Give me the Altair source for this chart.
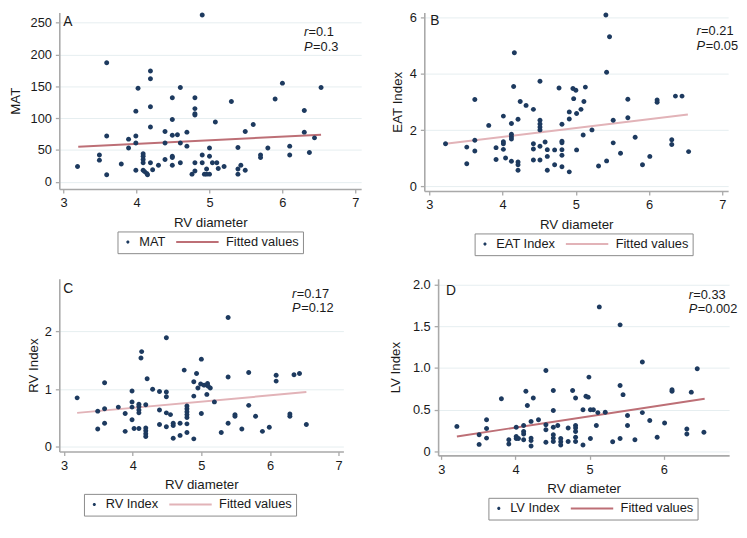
import altair as alt
import pandas as pd

# ---------------- data ----------------
# Panel A: MAT vs RV diameter
a_x = [3.19, 3.49, 3.49, 3.59, 3.59, 3.59, 3.79, 3.89, 3.89, 3.99, 3.99, 3.99, 3.99, 4.02,
       4.09, 4.09, 4.09, 4.09, 4.09, 4.11, 4.14, 4.15, 4.19, 4.19, 4.19, 4.19, 4.19, 4.22,
       4.30, 4.39, 4.39, 4.39, 4.49, 4.49, 4.49, 4.49, 4.49, 4.49, 4.56, 4.60, 4.60, 4.60,
       4.69, 4.69, 4.76, 4.80, 4.80, 4.80, 4.80, 4.80, 4.80, 4.90, 4.90, 4.90, 4.93, 4.96,
       4.96, 5.00, 5.00, 5.00, 5.04, 5.08, 5.10, 5.12, 5.20, 5.30, 5.39, 5.39, 5.39, 5.43,
       5.49, 5.49, 5.60, 5.70, 5.70, 5.80, 5.90, 6.00, 6.10, 6.10, 6.30, 6.30, 6.37, 6.44,
       6.53]
a_y = [24, 42, 34, 187, 72, 11, 28, 67, 53, 111, 72, 61, 18, 147,
       44, 40, 35, 30, 18, 16, 13, 11, 174, 162, 118, 86, 30, 19,
       26, 79, 61, 35, 132, 98, 73, 40, 38, 26, 74, 148, 61, 30,
       78, 56, 12, 17, 132, 115, 107, 105, 30, 262, 42, 30, 12, 12,
       20, 12, 53, 40, 30, 94, 30, 21, 24, 126, 54, 20, 12, 26,
       79, 18, 90, 42, 38, 53, 130, 155, 56, 42, 112, 78, 46, 69,
       148]
a_fit_x = [3.2, 6.53]
a_fit_y = [55, 74]

# Panel B: EAT Index vs RV diameter
b_x = [3.22, 3.51, 3.51, 3.62, 3.62, 3.62, 3.81, 3.91, 3.91, 4.01, 4.01, 4.01, 4.01, 4.04,
       4.12, 4.12, 4.12, 4.12, 4.12, 4.15, 4.16, 4.21, 4.21, 4.21, 4.21, 4.24, 4.32, 4.42,
       4.42, 4.42, 4.42, 4.51, 4.51, 4.51, 4.51, 4.51, 4.51, 4.51, 4.58, 4.61, 4.61, 4.61,
       4.71, 4.71, 4.77, 4.81, 4.81, 4.81, 4.81, 4.81, 4.81, 4.91, 4.91, 4.91, 4.96, 4.97,
       5.00, 5.01, 5.01, 5.07, 5.10, 5.11, 5.13, 5.22, 5.31, 5.41, 5.42, 5.42, 5.46, 5.51,
       5.51, 5.61, 5.71, 5.71, 5.81, 5.91, 6.01, 6.11, 6.11, 6.31, 6.31, 6.36, 6.45, 6.54]
b_y = [1.52, 1.40, 0.81, 3.09, 1.64, 1.26, 2.17, 1.38, 0.96, 2.50, 1.59, 1.52, 1.32, 1.01,
       2.24, 1.86, 1.77, 1.69, 0.90, 3.55, 4.75, 2.39, 0.87, 0.77, 0.58, 3.02, 2.88, 2.74,
       1.52, 1.33, 0.94, 3.74, 2.35, 2.22, 2.11, 2.01, 1.43, 0.94, 1.58, 1.31, 1.07, 0.58,
       1.30, 0.77, 3.50, 2.21, 1.61, 1.55, 1.31, 1.11, 0.70, 2.65, 2.40, 0.52, 3.48, 3.12,
       3.42, 2.59, 1.30, 2.74, 1.83, 3.02, 3.53, 2.01, 0.73, 6.09, 4.06, 0.91, 5.32, 2.35,
       1.55, 1.18, 3.10, 2.44, 1.75, 0.77, 1.07, 3.07, 2.99, 1.66, 1.49, 3.21, 3.21, 1.24]
b_fit_x = [3.22, 6.53]
b_fit_y = [1.52, 2.56]

# Panel C: RV Index vs RV diameter
c_x = [3.19, 3.49, 3.49, 3.59, 3.59, 3.59, 3.79, 3.89, 3.89, 3.99, 3.99, 3.99, 3.99, 4.02,
       4.09, 4.09, 4.09, 4.09, 4.09, 4.12, 4.13, 4.19, 4.19, 4.19, 4.19, 4.19, 4.21, 4.29,
       4.39, 4.39, 4.39, 4.49, 4.49, 4.49, 4.49, 4.49, 4.55, 4.59, 4.59, 4.59, 4.69, 4.69,
       4.75, 4.79, 4.79, 4.79, 4.79, 4.79, 4.79, 4.79, 4.89, 4.89, 4.89, 4.93, 4.95, 4.99,
       5.00, 5.00, 5.04, 5.08, 5.09, 5.10, 5.13, 5.19, 5.29, 5.39, 5.39, 5.39, 5.49, 5.49,
       5.59, 5.69, 5.69, 5.79, 5.89, 5.99, 6.09, 6.09, 6.29, 6.29, 6.35, 6.43, 6.53]
c_y = [0.85, 0.62, 0.31, 1.11, 0.66, 0.41, 0.69, 0.58, 0.27, 0.97, 0.78, 0.69, 0.47, 0.32,
       0.74, 0.70, 0.64, 0.59, 0.32, 1.54, 1.65, 0.73, 0.33, 0.28, 0.23, 0.18, 1.18, 1.00,
       0.96, 0.64, 0.39, 1.89, 0.95, 0.87, 0.59, 0.35, 0.56, 0.41, 0.37, 0.15, 0.41, 0.20,
       1.33, 0.71, 0.66, 0.61, 0.56, 0.51, 0.40, 0.25, 0.14, 1.13, 0.88, 1.27, 1.02, 1.09,
       1.52, 0.58, 1.07, 0.91, 1.10, 1.05, 1.02, 0.78, 0.25, 2.24, 1.21, 0.41, 0.56, 0.53,
       0.31, 1.29, 0.72, 0.53, 0.27, 0.34, 1.24, 1.14, 0.57, 0.53, 1.25, 1.27, 0.39]
c_fit_x = [3.19, 6.53]
c_fit_y = [0.59, 0.95]

# Panel D: LV Index vs RV diameter
d_x = [3.21, 3.51, 3.51, 3.61, 3.61, 3.61, 3.81, 3.91, 3.91, 4.01, 4.01, 4.01, 4.04, 4.11,
       4.11, 4.11, 4.11, 4.14, 4.16, 4.21, 4.21, 4.21, 4.21, 4.24, 4.31, 4.41, 4.41, 4.41,
       4.41, 4.51, 4.51, 4.51, 4.51, 4.51, 4.51, 4.57, 4.61, 4.61, 4.61, 4.71, 4.71, 4.77,
       4.81, 4.81, 4.81, 4.81, 4.81, 4.81, 4.91, 4.91, 4.95, 4.98, 4.99, 5.01, 5.01, 5.05,
       5.09, 5.11, 5.13, 5.21, 5.31, 5.41, 5.41, 5.41, 5.45, 5.51, 5.51, 5.61, 5.71, 5.71,
       5.81, 5.91, 6.01, 6.11, 6.11, 6.31, 6.31, 6.37, 6.45, 6.54]
d_y = [0.30, 0.20, 0.085, 0.38, 0.275, 0.16, 0.63, 0.14, 0.09, 0.29, 0.18, 0.155, 0.155, 0.31,
       0.24, 0.21, 0.14, 0.72, 0.55, 0.36, 0.16, 0.13, 0.066, 0.64, 0.38, 0.97, 0.32, 0.26,
       0.11, 0.73, 0.49, 0.29, 0.20, 0.16, 0.12, 0.31, 0.155, 0.116, 0.078, 0.28, 0.12, 0.73,
       0.64, 0.31, 0.28, 0.24, 0.17, 0.12, 0.50, 0.078, 0.66, 0.65, 0.89, 0.50, 0.155, 0.50,
       0.31, 0.465, 1.73, 0.47, 0.116, 1.515, 0.79, 0.155, 0.68, 0.43, 0.31, 0.14, 1.07, 0.465,
       0.37, 0.17, 0.34, 0.74, 0.72, 0.27, 0.21, 0.71, 0.99, 0.23]
d_fit_x = [3.21, 6.55]
d_fit_y = [0.18, 0.63]

# ---------------- styling ----------------
FONT = "Liberation Sans"
NAVY = "#1d3a5f"
ROSE_DARK = "#bd6f76"
ROSE_LIGHT = "#e2b3b8"
AXIS_GRAY = "#a9a9a9"
GRID = "#e6eef0"
TXT = "#1a1a1a"

# legend / point symbols (custom paths so the legend looks like Stata's)
DOT = "M-0.4,0 A0.4,0.4 0 1,0 0.4,0 A0.4,0.4 0 1,0 -0.4,0 Z"
SEG = "M-9.75,-0.25 L1,-0.25 L1,0.25 L-9.75,0.25 Z"

IND = dict(color="independent", shape="independent", x="independent", y="independent")
IND_LEG = dict(color="independent", shape="independent")
LEG_GAP = 43


def panel(xs, ys, fx, fy, name, letter, r_txt, p_txt, xdom, ydom, xticks, yticks,
          w, h, line_color, leg_x, letter_pos, rp_pos, ytitle_pad,
          yfmt="d", ylabel_expr=None):
    pts = pd.DataFrame({"x": xs, "y": ys, "s": [name] * len(xs)})
    fit = pd.DataFrame({"x": fx, "y": fy})

    yaxis_kw = dict(values=yticks, title=name, grid=True, titlePadding=ytitle_pad, format=yfmt)
    if ylabel_expr:
        yaxis_kw["labelExpr"] = ylabel_expr
    xscale = alt.Scale(domain=xdom, nice=False, zero=False)
    yscale = alt.Scale(domain=ydom, nice=False, zero=False)
    xenc = alt.X("x:Q", scale=xscale,
                 axis=alt.Axis(values=xticks, title="RV diameter", grid=False,
                               titlePadding=6, format="d"))
    yenc = alt.Y("y:Q", scale=yscale, axis=alt.Axis(**yaxis_kw))

    dom = [name, "Fitted values"]
    legend = alt.Legend(
        title=None, orient="none", legendX=leg_x, legendY=h + LEG_GAP, direction="horizontal",
        symbolSize=64, symbolStrokeWidth=0, symbolOpacity=1, labelOffset=5,
        columnPadding=10, padding=4, strokeColor="#8a8a8a", fillColor="white",
        labelFont=FONT, labelFontSize=13, labelColor=TXT, labelLimit=400,
    )
    points = alt.Chart(pts).mark_point(filled=True, size=156, opacity=1, strokeWidth=0).encode(
        x=xenc, y=yenc,
        color=alt.Color("s:N", scale=alt.Scale(domain=dom, range=[NAVY, line_color]), legend=legend),
        shape=alt.Shape("s:N", scale=alt.Scale(domain=dom, range=[DOT, SEG]), legend=legend),
    )
    line = alt.Chart(fit).mark_line(color=line_color, strokeWidth=2).encode(x=xenc, y=yenc)

    ann = pd.DataFrame({"t": [letter]})
    letter_mark = alt.Chart(ann).mark_text(
        align="left", baseline="alphabetic", font=FONT, fontSize=14, color=TXT
    ).encode(text="t:N", x=alt.value(letter_pos[0]), y=alt.value(letter_pos[1]))

    rx, ry = rp_pos
    texts = []
    for (ital, rest, yy, dx) in [("r", r_txt, ry, 4.6), ("P", p_txt, ry + 15, 9.2)]:
        texts.append(alt.Chart(pd.DataFrame({"t": [ital]})).mark_text(
            align="left", baseline="alphabetic", font=FONT, fontSize=13, fontStyle="italic", color=TXT
        ).encode(text="t:N", x=alt.value(rx), y=alt.value(yy)))
        texts.append(alt.Chart(pd.DataFrame({"t": [rest]})).mark_text(
            align="left", baseline="alphabetic", font=FONT, fontSize=13, color=TXT
        ).encode(text="t:N", x=alt.value(rx + dx), y=alt.value(yy)))

    return alt.layer(line, points, letter_mark, *texts).properties(width=w, height=h)


pA = panel(a_x, a_y, a_fit_x, a_fit_y, "MAT", "A", "=0.1", "=0.3",
           [2.94, 7.08], [-11.4, 266], [3, 4, 5, 6, 7], [0, 50, 100, 150, 200, 250],
           306, 179, ROSE_DARK, 59, (4, 14), (248, 24), 8)
pB = panel(b_x, b_y, b_fit_x, b_fit_y, "EAT Index", "B", "=0.21", "=0.05",
           [2.93, 7.08], [-0.16, 6.18], [3, 4, 5, 6, 7], [0, 2, 4, 6],
           308, 181, ROSE_LIGHT, 51, (6, 13), (276, 23), 5)
pC = panel(c_x, c_y, c_fit_x, c_fit_y, "RV Index", "C", "=0.17", "=0.12",
           [2.93, 7.07], [-0.078, 2.91], [3, 4, 5, 6, 7], [0, 1, 2],
           288, 175, ROSE_LIGHT, 25, (4, 14), (236, 19), 4)
pD = panel(d_x, d_y, d_fit_x, d_fit_y, "LV Index", "D", "=0.33", "=0.002",
           [2.957, 6.88], [-0.047, 2.066], [3, 4, 5, 6], [0, 0.5, 1.0, 1.5, 2.0],
           295, 179, ROSE_DARK, 51, (8, 16), (254, 20), 10,
           yfmt=".1f", ylabel_expr="datum.value == 0 ? '0' : format(datum.value, '.1f')")

row1 = alt.hconcat(pA, pB, spacing=29).resolve_scale(**IND).resolve_legend(**IND_LEG)
row2 = alt.hconcat(pC, pD, spacing=45).resolve_scale(**IND).resolve_legend(**IND_LEG)

chart = alt.concat(row1, row2, columns=1, spacing=22).resolve_scale(**IND).resolve_legend(
    **IND_LEG
).configure_view(
    strokeWidth=0
).configure_axis(
    domainColor=AXIS_GRAY, domainWidth=1.6, tickColor=AXIS_GRAY, tickSize=4, tickWidth=1.3,
    labelFont=FONT, labelFontSize=13, labelColor=TXT, labelPadding=4,
    titleFont=FONT, titleFontSize=13.5, titleFontWeight="normal", titleColor=TXT,
    gridColor=GRID, gridWidth=1,
).properties(padding=0, background="white")

chart.save("out.html", embed_options={"renderer": "svg", "actions": False})
